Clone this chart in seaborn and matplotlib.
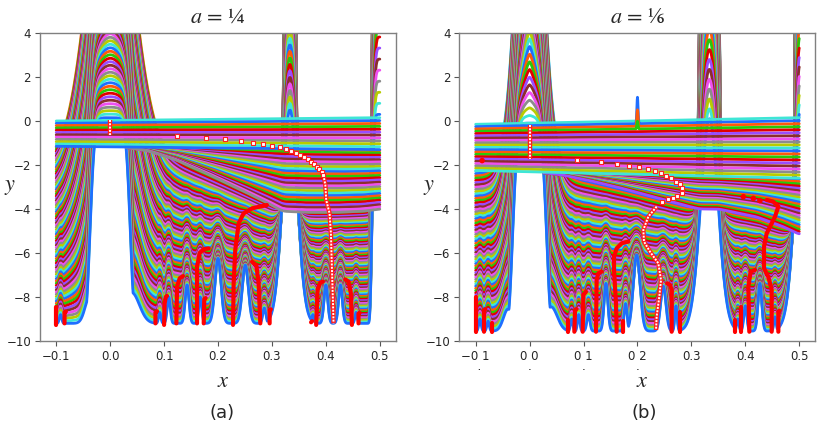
import numpy as np
import pandas as pd
import matplotlib
matplotlib.use("Agg")
from matplotlib import pyplot as plt
import seaborn as sns

# colour cycle of the curve families (bright tab10 order)
curve_colors = ['#1f6eff', '#ff5a0a', '#28c80a', '#e10000', '#9a4cff',
                '#8c2d2d', '#ee4ff0', '#8c8c8c', '#b8cc00', '#3ee6d6']

xs = np.linspace(-0.1, 0.5, 1201)

# ---------------- panel (a): a = 1/4 ----------------
a_floor = -9.2
# lowest curve: wells at the floor, bumps / walls
a_feat_x = [-0.092, 0.0, -0.038, 0.04, 0.092, 0.1086, 0.1426, 0.167, 0.2, 0.2506,
            0.2858, 1 / 3, 0.376, 0.4, 0.427, 0.456, 0.5]
a_feat_top = [-8.8, 0.15, -8.0, -7.8, -8.7, -8.0, -7.45, -8.0, -6.24, -6.55,
              -8.5, 0.5, -8.8, -7.45, -7.45, -8.7, 0.3]
a_feat_w = [0.003, 0.0386, 0.012, 0.02, 0.003, 0.004, 0.005, 0.004, 0.008, 0.008,
            0.004, 0.0195, 0.003, 0.005, 0.005, 0.003, 0.01545]
a_feat_p = [2, 6.9, 2, 2, 2, 2, 2, 2, 2, 2, 2, 2, 2, 2, 2, 2, 6]
# upper curve of the well family: smooth level plus the three spikes
a_top_kx = [-0.1, -0.03, 0.03, 0.07, 0.12, 0.18, 0.24, 0.29, 0.32, 0.36, 0.42, 0.47, 0.5]
a_top_ky = [-1.7, -1.4, -1.2, -1.35, -1.75, -2.4, -3.1, -3.7, -4.1, -4.15, -4.15, -4.1, -4.0]
a_spike_x = [0.0, 1 / 3, 0.5]
a_spike_h = [14.0, 28.0, 44.0]
a_spike_w = [0.055, 0.0108, 0.01225]
a_spike_p = [2, 4, 4]
a_n_well = 80
# flat band on top (left / right ends of its first and last line)
a_band_top = [0.0, 0.15]
a_band_bot = [-1.15, -1.3]
a_n_band = 12
a_band_spike = []
# fan of lines between the band and the wells
a_fan_start = 0.03
a_fan_top = [-1.2, -1.35]
a_fan_kx = [0.03, 0.07, 0.12, 0.18, 0.24, 0.29, 0.32, 0.36, 0.42, 0.47, 0.5]
a_fan_ky = [-1.2, -1.35, -1.75, -2.4, -3.1, -3.7, -4.1, -4.15, -4.15, -4.1, -4.0]
a_n_fan = 27
# red branches
a_red = [
    [(-0.1, -9.27), (-0.1, -8.45)],
    [(-0.0846, -9.2), (-0.0846, -8.7), (-0.082, -8.66)],
    [(0.084, -9.2), (0.084, -8.7), (0.087, -8.65)],
    [(0.1, -9.27), (0.101, -8.3), (0.103, -8.0), (0.1055, -7.95)],
    [(0.1228, -9.2), (0.124, -7.53), (0.129, -7.15), (0.1352, -7.05)],
    [(0.1611, -9.2), (0.1611, -6.62), (0.166, -6.0), (0.1735, -5.83), (0.1827, -5.79)],
    [(0.1735, -9.2), (0.1745, -8.1), (0.177, -8.05)],
    [(0.2278, -9.27), (0.229, -7.38), (0.232, -5.86), (0.2383, -4.65), (0.2475, -4.2),
     (0.263, -3.97), (0.2784, -3.89), (0.2907, -3.82)],
    [(0.263, -6.4), (0.271, -6.55), (0.2753, -7.38), (0.2784, -9.2)],
    [(0.2957, -9.2), (0.2957, -8.6), (0.298, -8.56)],
    [(0.3725, -9.15), (0.3745, -9.1)],
    [(0.382, -9.27), (0.3846, -7.68), (0.3895, -7.35), (0.3944, -7.3)],
    [(0.4482, -9.27), (0.4463, -7.83), (0.442, -7.3), (0.4358, -7.2)],
    [(0.4605, -9.2), (0.4605, -8.75), (0.4625, -8.72)],
]
a_red_dots = []
# white square markers (sparse) and the dense stacks of them
a_white_sparse = [(0.1246, -0.68), (0.1769, -0.758), (0.2138, -0.833), (0.2428, -0.909),
                  (0.2649, -0.985), (0.2833, -1.045), (0.3, -1.121), (0.3141, -1.197),
                  (0.3264, -1.288), (0.3357, -1.364), (0.3449, -1.439), (0.3523, -1.545),
                  (0.3597, -1.652), (0.3664, -1.742), (0.3726, -1.848), (0.3781, -1.97),
                  (0.383, -2.076), (0.388, -2.197), (0.3923, -2.333), (0.3953, -2.455)]
a_white_dense = [
    [(0.0, 0.05), (0.0, -0.64)],
    [(0.3965, -2.6), (0.399, -2.9), (0.4006, -3.59), (0.4068, -4.2), (0.4093, -5.1),
     (0.4111, -6.62), (0.413, -8.14), (0.4142, -9.2)],
]

# ---------------- panel (b): a = 1/6 ----------------
b_floor = -9.55
b_feat_x = [-0.092, -0.077, 0.0, -0.04, 0.04, 0.078, 0.091, 0.109, 0.1416, 0.178,
            0.1985, 0.2478, 0.2714, 1 / 3, 0.386, 0.4, 0.427, 0.455, 0.5]
b_feat_top = [-9.0, -9.1, -0.1, -8.55, -8.45, -9.0, -8.8, -8.8, -7.38, -8.3,
              -6.09, -7.5, -8.4, 0.1, -9.0, -8.4, -7.38, -8.9, 0.3]
b_feat_w = [0.003, 0.003, 0.033, 0.012, 0.016, 0.003, 0.003, 0.004, 0.005, 0.004,
            0.009, 0.007, 0.003, 0.0229, 0.003, 0.004, 0.005, 0.003, 0.0148]
b_feat_p = [2, 2, 5.6, 2, 2, 2, 2, 2, 2, 2, 2, 2, 2, 2, 2, 2, 2, 2, 1.5]
b_top_kx = [-0.1, -0.03, 0.025, 0.06, 0.11, 0.17, 0.23, 0.29, 0.315, 0.35, 0.42, 0.47, 0.5]
b_top_ky = [-2.3, -2.35, -2.35, -2.45, -2.7, -3.05, -3.45, -3.85, -4.0, -4.0, -4.35, -4.8, -5.15]
b_spike_x = [0.0, 1 / 3, 0.5]
b_spike_h = [27.0, 36.0, 36.0]
b_spike_w = [0.0253, 0.017, 0.0074]
b_spike_p = [1.5, 4, 4]
b_n_well = 72
b_band_top = [-0.15, 0.15]
b_band_bot = [-2.25, -2.6]
b_n_band = 21
b_band_spike = [0.0, 1.2, 0.75, 0.35]   # narrow peaks at x = 0.2 on the top lines
b_fan_start = 0.025
b_fan_top = [-2.3, -2.65]
b_fan_kx = [0.025, 0.06, 0.11, 0.17, 0.23, 0.29, 0.315, 0.35, 0.42, 0.47, 0.5]
b_fan_ky = [-2.35, -2.45, -2.7, -3.05, -3.45, -3.85, -4.0, -4.0, -4.35, -4.8, -5.15]
b_n_fan = 25
b_red = [
    [(-0.1, -9.58), (-0.1, -7.98)],
    [(-0.0845, -9.58), (-0.0845, -8.6), (-0.082, -8.55)],
    [(-0.0703, -9.58), (-0.0703, -9.2)],
    [(0.0718, -9.58), (0.0718, -9.05)],
    [(0.083, -9.58), (0.0842, -8.6), (0.087, -8.55)],
    [(0.0984, -9.58), (0.0996, -7.9), (0.1046, -7.76)],
    [(0.1231, -9.58), (0.1243, -7.23), (0.1274, -6.92), (0.1336, -6.85)],
    [(0.1614, -9.58), (0.1602, -8.29), (0.1565, -6.77), (0.1565, -6.17), (0.1614, -5.79),
     (0.1707, -5.56), (0.1831, -5.48)],
    [(0.1726, -9.58), (0.1726, -9.1)],
    [(0.2634, -9.58), (0.2634, -7.68), (0.2603, -7.45), (0.2554, -7.38)],
    [(0.2789, -9.58), (0.2789, -8.67)],
    [(0.3808, -9.58), (0.3808, -9.05)],
    [(0.392, -9.58), (0.392, -8.44)],
    [(0.4074, -9.58), (0.4056, -7.53), (0.4099, -6.85), (0.418, -6.77)],
    [(0.4488, -9.58), (0.4488, -7.68), (0.4426, -7.08), (0.4346, -6.7), (0.4346, -5.71),
     (0.4396, -5.11), (0.455, -4.35), (0.4612, -3.89), (0.4519, -3.67), (0.4396, -3.59)],
    [(0.4612, -9.58), (0.4612, -8.67), (0.4632, -8.62)],
]
b_red_dots = [(-0.088, -1.8), (0.427, -3.62), (0.4148, -3.52), (0.3963, -3.44)]
b_white_sparse = [(0.0872, -1.77), (0.132, -1.88), (0.162, -1.95), (0.185, -2.03),
                  (0.2035, -2.1), (0.219, -2.2), (0.233, -2.29), (0.2435, -2.38),
                  (0.2527, -2.48), (0.262, -2.61), (0.271, -2.76), (0.2785, -2.88),
                  (0.2835, -3.06), (0.2822, -3.26), (0.2742, -3.41), (0.2652, -3.52),
                  (0.2559, -3.56), (0.245, -3.7)]
b_white_dense = [
    [(0.0, -0.18), (0.0, -1.74)],
    [(0.2356, -3.89), (0.2201, -4.35), (0.2109, -4.95), (0.2121, -5.48), (0.2232, -5.94),
     (0.2387, -6.47), (0.2436, -7.23), (0.2405, -7.98), (0.2356, -8.89), (0.2344, -9.5)],
]

a_xtick_labels = ['\u22120.1', '0.0', '0.1', '0.2', '0.3', '0.4', '0.5']
b_xtick_labels = ['\u22120 1\n  .', '0 0\n.', '0 1\n.', '0 2\n.', '0.3', '0.4', '0.5']


def floor_curve(x, base, cx, top, width, power):
    lift = np.zeros_like(x)
    for c, t, w, p in zip(cx, top, width, power):
        lift = np.maximum(lift, (t - base) * np.exp(-np.abs((x - c) / w) ** p))
    return base + lift


def spike_sum(x, cx, height, width, power):
    out = np.zeros_like(x)
    for c, h, w, p in zip(cx, height, width, power):
        out += h * np.exp(-np.abs((x - c) / w) ** p)
    return out


def smooth_knots(x, kx, ky, k=31):
    v = np.interp(x, kx, ky)
    return np.convolve(np.pad(v, k // 2, mode='edge'), np.ones(k) / k, mode='valid')


def family(ax, x, curves, colors, lw=2.0):
    names = ['c%03d' % i for i in range(len(curves))]
    df = pd.concat([pd.DataFrame({'x': x, 'y': c, 'curve': n}) for c, n in zip(curves, names)])
    sns.lineplot(data=df, x='x', y='y', hue='curve', hue_order=names,
                 palette=dict(zip(names, colors)), estimator=None, legend=False,
                 linewidth=lw, ax=ax)


def draw_panel(ax, floor, fx, ftop, fw, fp, tkx, tky, sx, sh, sw, sp, n_well,
               band_top, band_bot, n_band, band_spike, fan_start, fan_top, fan_kx, fan_ky,
               n_fan, red, red_dots, white_sparse, white_dense):
    low = floor_curve(xs, floor, fx, ftop, fw, fp)
    # walls only (no small bumps): the small bumps fade out with height
    keep = [(t > -5) or (w >= 0.012) for t, w in zip(ftop, fw)]
    walls = floor_curve(xs, floor, [c for c, k in zip(fx, keep) if k],
                        [t for t, k in zip(ftop, keep) if k],
                        [w for w, k in zip(fw, keep) if k],
                        [p for p, k in zip(fp, keep) if k])
    detail = low - walls
    high = smooth_knots(xs, tkx, tky) + spike_sum(xs, sx, sh, sw, sp)
    spread = np.maximum(high - walls, 0.05)
    wells, cols = [], []
    for j in range(n_well - 1, -1, -1):
        u = j / (n_well - 1)
        wells.append(walls + detail * (1 - u) ** 2 + spread * u)
        cols.append(curve_colors[(-j) % 10])
    family(ax, xs, wells, cols)

    # fan between band and wells
    xf = xs[xs >= fan_start]
    f_top = np.interp(xf, [fan_start, 0.5], fan_top)
    f_bot = smooth_knots(xf, fan_kx, fan_ky)
    fan = [f_top + (f_bot - f_top) * i / (n_fan - 1) for i in range(n_fan)]
    family(ax, xf, fan, [curve_colors[(9 + n_band + i) % 10] for i in range(n_fan)])

    # flat band on top
    b_t = np.interp(xs, [-0.1, 0.5], band_top)
    b_b = np.interp(xs, [-0.1, 0.5], band_bot)
    band = []
    for i in range(n_band):
        y = b_t + (b_b - b_t) * i / (n_band - 1)
        if i < len(band_spike):
            y = y + band_spike[i] * np.exp(-((xs - 0.2) / 0.0015) ** 2)
        band.append(y)
    family(ax, xs, band, [curve_colors[(9 + i) % 10] for i in range(n_band)])

    # red branches
    rdf = pd.concat([pd.DataFrame({'x': [p[0] for p in br], 'y': [p[1] for p in br],
                                   'branch': k}) for k, br in enumerate(red)])
    sns.lineplot(data=rdf, x='x', y='y', units='branch', estimator=None, sort=False,
                 color='#ff0000', linewidth=3.0, solid_capstyle='round', ax=ax, zorder=4)
    if red_dots:
        sns.scatterplot(x=[p[0] for p in red_dots], y=[p[1] for p in red_dots],
                        color='#ff0000', s=16, edgecolor='none', ax=ax, zorder=4)

    # white square markers
    for seg in white_dense:
        ax.plot([p[0] for p in seg], [p[1] for p in seg], color='#ff2020', lw=3.2,
                solid_capstyle='butt', zorder=5)
        ax.plot([p[0] for p in seg], [p[1] for p in seg], color='white', lw=1.4,
                dashes=(1.0, 0.7), zorder=6)
    sns.scatterplot(x=[p[0] for p in white_sparse], y=[p[1] for p in white_sparse],
                    marker='s', s=11, color='white', edgecolor='#ff2020', linewidth=0.8,
                    ax=ax, zorder=6)

    ax.set_xlim(-0.13, 0.53)
    ax.set_ylim(-10, 4)
    ax.set_xticks([-0.1, 0.0, 0.1, 0.2, 0.3, 0.4, 0.5])
    ax.set_yticks(range(-10, 5, 2))
    ax.tick_params(bottom=True, left=True, length=3.5, width=0.8, color='#555555',
                   labelsize=8.5, pad=3)
    for s in ax.spines.values():
        s.set_color('#808080')
        s.set_linewidth(1.0)
    ax.set_xlabel('$x$', fontsize=16)
    ax.xaxis.label.set_va('center')
    ax.xaxis.set_label_coords(0.514, -0.131)
    ax.set_ylabel('$y$', fontsize=16, rotation=0)
    ax.yaxis.label.set_va('center')
    ax.yaxis.set_label_coords(-0.085, 0.5)


sns.set_style('white')
plt.rcParams['mathtext.fontset'] = 'stix'

fig = plt.figure(figsize=(8.17, 4.24), dpi=100)
ax1 = fig.add_axes([0.049, 0.1958, 0.4357, 0.7264])
ax2 = fig.add_axes([0.5624, 0.1958, 0.4357, 0.7264])

draw_panel(ax1, a_floor, a_feat_x, a_feat_top, a_feat_w, a_feat_p, a_top_kx, a_top_ky,
           a_spike_x, a_spike_h, a_spike_w, a_spike_p, a_n_well, a_band_top, a_band_bot,
           a_n_band, a_band_spike, a_fan_start, a_fan_top, a_fan_kx, a_fan_ky, a_n_fan,
           a_red, a_red_dots, a_white_sparse, a_white_dense)
draw_panel(ax2, b_floor, b_feat_x, b_feat_top, b_feat_w, b_feat_p, b_top_kx, b_top_ky,
           b_spike_x, b_spike_h, b_spike_w, b_spike_p, b_n_well, b_band_top, b_band_bot,
           b_n_band, b_band_spike, b_fan_start, b_fan_top, b_fan_kx, b_fan_ky, b_n_fan,
           b_red, b_red_dots, b_white_sparse, b_white_dense)

ax1.set_xticklabels(a_xtick_labels)
ax2.set_xticklabels(b_xtick_labels, linespacing=0.65)

ax1.set_title('$a$ = \u00bc', fontsize=16, pad=7, fontfamily='STIXGeneral')
ax2.set_title('$a$ = \u2159', fontsize=16, pad=7, fontfamily='STIXGeneral')

fig.text(0.2717, 0.026, '(a)', ha='center', va='center', fontsize=13)
fig.text(0.788, 0.026, '(b)', ha='center', va='center', fontsize=13)

fig.savefig('out.png', dpi=100)
